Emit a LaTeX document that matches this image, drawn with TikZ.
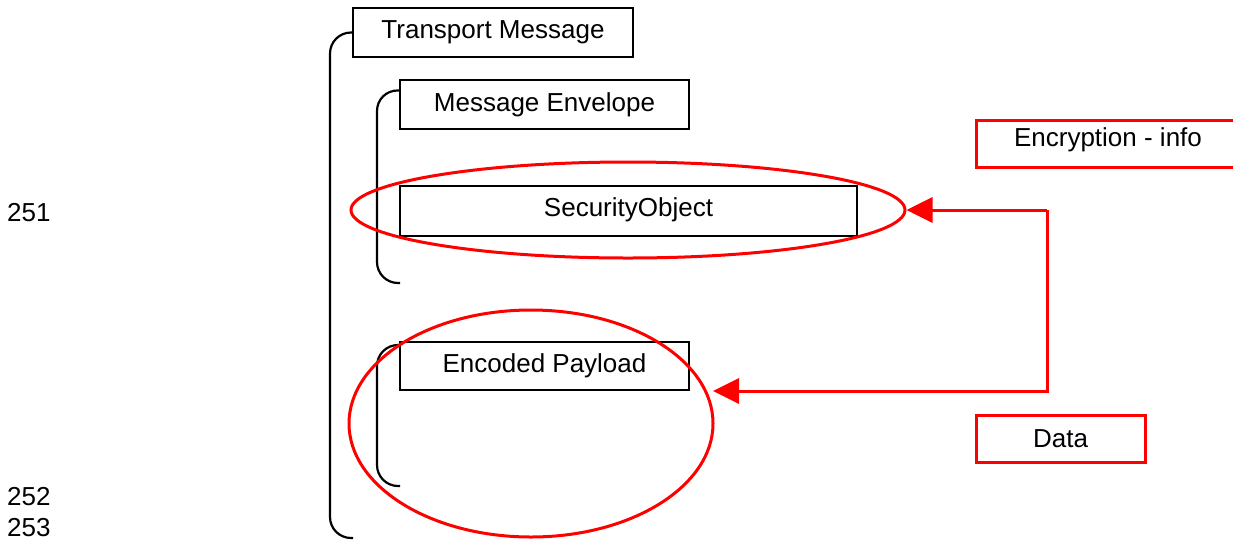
\documentclass[tikz,border=0pt]{standalone}
\usepackage{fontspec}
\setmainfont{Liberation Sans}
\usetikzlibrary{arrows.meta,shapes.geometric}

\begin{document}
\begin{tikzpicture}[x=1pt, y=-1pt,
	box/.style={draw, line width=2.2pt, inner sep=0pt, minimum height=49pt, font=\fontsize{26}{30}\selectfont},
	redbox/.style={box, draw=red, line width=3pt},
	ring/.style={ellipse, draw=red, line width=3pt, inner sep=0pt},
	brace/.style={line width=2.2pt, rounded corners=21pt},
	link/.style={red, line width=3pt, -{Triangle[length=26pt, width=25pt]}},
	lineno/.style={anchor=base west, inner sep=0pt, font=\fontsize{26}{30}\selectfont}]
	\clip (0,0) rectangle (1233,539);
	
	% line numbers in the margin
	\node[lineno] (l251) at (7,221) {251};
	\node[lineno] (l252) at (7,505) {252};
	\node[lineno] (l253) at (7,536) {253};
	
	% message parts
	\node[box, minimum width=280pt] (tm) at (493,32.5) {Transport Message};
	\node[box, minimum width=289pt] (env) at (544.5,104.5) {Message Envelope};
	\node[box, line width=1.3pt, minimum width=457pt, minimum height=50pt, text depth=8pt] (sec) at (628.5,211) {SecurityObject};
	\node[box, minimum width=289pt, minimum height=48pt] (pay) at (544.5,366) {Encoded Payload};
	
	% brackets round the parts
	\draw[brace] (tm.west) -- (330,32.5) -- (330,538) -- (353,538);
	\draw[brace] ([yshift=14pt]env.west) -- (377,90) -- (377,283) -- (400,283);
	\draw[brace] ([yshift=21pt]pay.west) -- (377,345) -- (377,486) -- (400,486);
	
	% red marks
	\node[redbox, minimum width=264pt, minimum height=47pt, text depth=13pt] (enc) at (1108,143.5) {Encryption - info};
	\node[redbox, minimum width=169pt, minimum height=47pt] (data) at (1060.5,439) {Data};
	\node[ring, minimum width=554pt, minimum height=96pt] (secring) at (628,210) {};
	\node[ring, minimum width=364pt, minimum height=227pt] (payring) at (531,423.5) {};
	
	\coordinate (bend) at (1047,210);
	\coordinate (tip) at (713,391);
	\draw[link] (bend) -- (secring.east);
	\draw[link] (bend) |- (tip);
\end{tikzpicture}
\end{document}
